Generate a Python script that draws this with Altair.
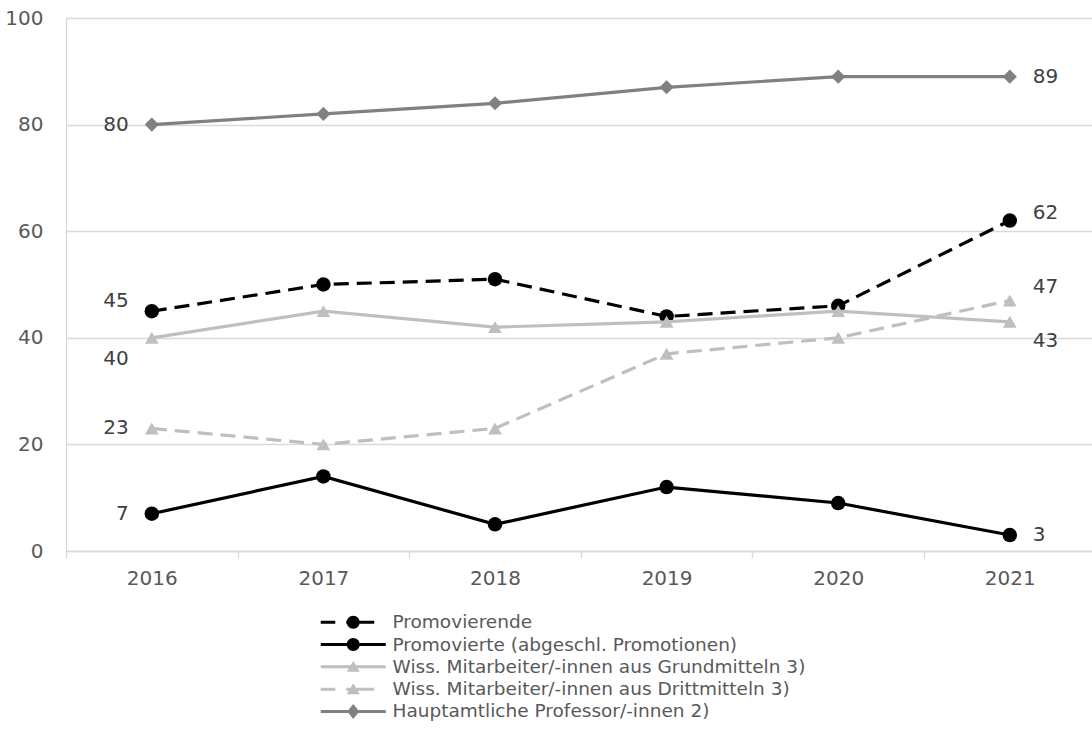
import altair as alt
import pandas as pd

# Jahre und Reihen
years = [2016, 2017, 2018, 2019, 2020, 2021]
series_names = [
    "Promovierende",
    "Promovierte (abgeschl. Promotionen)",
    "Wiss. Mitarbeiter/-innen aus Grundmitteln 3)",
    "Wiss. Mitarbeiter/-innen aus Drittmitteln 3)",
    "Hauptamtliche Professor/-innen 2)",
]
promovierende = [45, 50, 51, 44, 46, 62]
promovierte = [7, 14, 5, 12, 9, 3]
grundmittel = [40, 45, 42, 43, 45, 43]
drittmittel = [23, 20, 23, 37, 40, 47]
professoren = [80, 82, 84, 87, 89, 89]
values_by_series = [promovierende, promovierte, grundmittel, drittmittel, professoren]

FONT = "DejaVu Sans"
FONT_SIZE = 20
LEGEND_FONT_SIZE = 18.5
AXIS_GREY = "#595959"
LABEL_GREY = "#404040"
GRID = "#D9D9D9"

# Darstellung je Reihe: Farbe, Strichelung, Marker, Versatz der Randbeschriftungen
styles = [
    dict(color="#000000", dash=[15, 8], marker="circle", size=210, dy_first=-10, dy_last=-8),
    dict(color="#000000", dash=None, marker="circle", size=210, dy_first=0, dy_last=0),
    dict(color="#BFBFBF", dash=None, marker="triangle-up", size=190, dy_first=21, dy_last=19),
    dict(color="#BFBFBF", dash=[15, 8], marker="triangle-up", size=190, dy_first=0, dy_last=-13),
    dict(color="#808080", dash=None, marker="diamond", size=200, dy_first=0, dy_last=0),
]

# Legendensymbole: Linienstück mit Marker (Einheit = 5 px)
CIRCLE = "M-1.3,0A1.3,1.3,0,1,1,1.3,0A1.3,1.3,0,1,1,-1.3,0Z"
TRI = "M0,-1.2L1.3,1L-1.3,1Z"
DIAM = "M0,-1.5L1.2,0L0,1.5L-1.2,0Z"
SOLID = "M-6.5,-0.3H6.5V0.3H-6.5Z"
DASHED = "M-6.5,-0.3H-3.6V0.3H-6.5Z M-1.4,-0.3H4.2V0.3H-1.4Z"
legend_paths = [
    DASHED + " " + CIRCLE,
    SOLID + " " + CIRCLE,
    SOLID + " " + TRI,
    DASHED + " " + TRI,
    SOLID + " " + DIAM,
]
legend_colors = [s["color"] for s in styles]

x_scale = alt.Scale(domain=[2015.5, 2021.479], nice=False, zero=False)
y_scale = alt.Scale(domain=[0, 100], nice=False)

x_values = [2015.5 + 0.5 * i for i in range(12)]
x_axis = alt.Axis(
    title=None,
    values=x_values,
    labelExpr="datum.value % 1 == 0 ? format(datum.value, 'd') : ''",
    grid=False,
    domainColor=GRID,
    domainWidth=1.3,
    tickColor=GRID,
    tickWidth=1.3,
    tickSize=7,
    tickOpacity={"condition": {"test": "datum.value % 1 != 0", "value": 1}, "value": 0},
    labelFont=FONT,
    labelFontSize=FONT_SIZE,
    labelColor=AXIS_GREY,
    labelPadding=10,
    labelFlush=False,
    labelOverlap=False,
)
y_axis = alt.Axis(
    title=None,
    values=[0, 20, 40, 60, 80, 100],
    grid=True,
    gridColor=GRID,
    gridWidth=1.3,
    domainColor=GRID,
    domainWidth=1.3,
    ticks=False,
    labelFont=FONT,
    labelFontSize=FONT_SIZE,
    labelColor=AXIS_GREY,
    labelPadding=23,
)

X = alt.X("Jahr:Q", scale=x_scale, axis=x_axis)
Y = alt.Y("Wert:Q", scale=y_scale, axis=y_axis)

layers = []
for name, vals, st in zip(series_names, values_by_series, styles):
    df = pd.DataFrame({"Jahr": years, "Wert": vals, "Reihe": name})
    base = alt.Chart(df).encode(x=X, y=Y)
    line_kw = dict(color=st["color"], strokeWidth=3.2, clip=False)
    if st["dash"]:
        line_kw["strokeDash"] = st["dash"]
    line = base.mark_line(**line_kw)
    pts = base.mark_point(
        filled=True, opacity=1, shape=st["marker"], size=st["size"], color=st["color"]
    )
    first = pd.DataFrame({"Jahr": [years[0]], "Wert": [vals[0]]})
    last = pd.DataFrame({"Jahr": [years[-1]], "Wert": [vals[-1]]})
    lab_first = alt.Chart(first).mark_text(
        align="right", baseline="middle", dx=-23, dy=st["dy_first"],
        font=FONT, fontSize=FONT_SIZE, color=LABEL_GREY,
    ).encode(x=X, y=Y, text=alt.Text("Wert:Q", format="d"))
    lab_last = alt.Chart(last).mark_text(
        align="left", baseline="middle", dx=23, dy=st["dy_last"],
        font=FONT, fontSize=FONT_SIZE, color=LABEL_GREY,
    ).encode(x=X, y=Y, text=alt.Text("Wert:Q", format="d"))
    layers += [line, pts, lab_first, lab_last]

# Legende aus einer leeren Ebene mit eigener Farb- und Symbolskala
legend_kw = dict(
    title=None,
    orient="none",
    legendX=278,
    legendY=595,
    direction="vertical",
    labelFont=FONT,
    labelFontSize=LEGEND_FONT_SIZE,
    labelColor=AXIS_GREY,
    labelOffset=30,
    symbolSize=100,
    symbolStrokeWidth=0,
    symbolOpacity=1,
    rowPadding=3.3,
    padding=0,
    labelLimit=0,
)
legend_df = pd.DataFrame({"Jahr": [years[0]] * 5, "Wert": [0] * 5, "Reihe": series_names})
legend_layer = (
    alt.Chart(legend_df)
    .transform_filter("false")
    .mark_point(filled=True, opacity=1, size=100)
    .encode(
        x=X,
        y=Y,
        color=alt.Color(
            "Reihe:N",
            scale=alt.Scale(domain=series_names, range=legend_colors),
            legend=alt.Legend(**legend_kw),
        ),
        shape=alt.Shape(
            "Reihe:N",
            scale=alt.Scale(domain=series_names, range=legend_paths),
            legend=alt.Legend(**legend_kw),
        ),
    )
)

chart = (
    alt.layer(*layers, legend_layer)
    .properties(
        width=1026,
        height=533,
        autosize=alt.AutoSizeParams(type="none"),
        padding={"left": 66, "top": 18, "right": 0, "bottom": 184},
        background="white",
    )
    .configure_view(strokeWidth=0)
)

chart.save("out.html", embed_options={"renderer": "svg", "actions": False})
